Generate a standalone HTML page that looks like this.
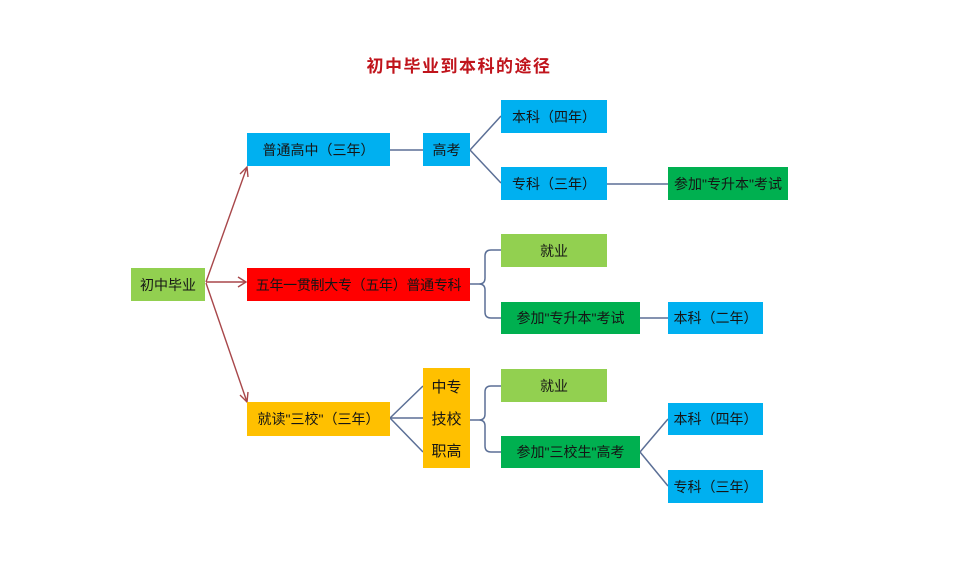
<!DOCTYPE html>
<html><head><meta charset="utf-8">
<style>
html,body{margin:0;padding:0;background:#fff;}
body{width:960px;height:563px;position:relative;overflow:hidden;font-family:"Liberation Sans","Noto Sans CJK SC",sans-serif;}
.b{position:absolute;display:flex;align-items:center;justify-content:center;font-size:14px;color:#151515;white-space:nowrap;box-sizing:border-box;}
.bl{background:#00b0f0;}
.lg{background:#92d050;}
.dg{background:#00b050;}
.rd{background:#ff0000;}
.or{background:#ffc000;}
.title{position:absolute;left:309px;top:52px;width:300px;text-align:center;font-size:17px;font-weight:bold;color:#c0141c;letter-spacing:1.5px;white-space:nowrap;font-family:"Liberation Sans","Noto Sans CJK SC",sans-serif;}
svg{position:absolute;left:0;top:0;}
</style></head><body>
<div class="title">初中毕业到本科的途径</div>
<svg width="960" height="563">
<g stroke="#5b6f96" stroke-width="1.5" fill="none">
<line x1="390" y1="150" x2="423" y2="150"/>
<line x1="470" y1="150" x2="501" y2="116"/>
<line x1="470" y1="150" x2="501" y2="183"/>
<line x1="607" y1="184" x2="668" y2="184"/>
<line x1="640" y1="318" x2="668" y2="318"/>
<line x1="390" y1="418" x2="423" y2="386"/>
<line x1="390" y1="418" x2="423" y2="418"/>
<line x1="390" y1="418" x2="423" y2="452"/>
<line x1="640" y1="452" x2="668" y2="419"/>
<line x1="640" y1="452" x2="668" y2="486"/>
<path d="M470,284 H479 Q485,284 485,278 V256 Q485,250 491,250 H501 M479,284 Q485,284 485,290 V312 Q485,318 491,318 H501"/>
<path d="M470,420 H479 Q485,420 485,414 V392 Q485,386 491,386 H501 M479,420 Q485,420 485,426 V446 Q485,452 491,452 H501"/>
</g>
<g stroke="#a8474a" stroke-width="1.4" fill="none">
<line x1="206" y1="282" x2="247" y2="167"/>
<polyline points="240,174 247,167 248,177"/>
<line x1="206" y1="282" x2="246" y2="282"/>
<polyline points="238,277 246,282 238,287"/>
<line x1="206" y1="283" x2="247" y2="402"/>
<polyline points="240,395 247,402 248,392"/>
</g>
</svg>
<div class="b bl" style="left:501px;top:100px;width:106px;height:33px;">本科（四年）</div>
<div class="b bl" style="left:247px;top:133px;width:143px;height:33px;">普通高中（三年）</div>
<div class="b bl" style="left:423px;top:133px;width:47px;height:33px;">高考</div>
<div class="b bl" style="left:501px;top:167px;width:106px;height:33px;">专科（三年）</div>
<div class="b dg" style="left:668px;top:167px;width:120px;height:33px;">参加"专升本"考试</div>
<div class="b lg" style="left:501px;top:234px;width:106px;height:33px;">就业</div>
<div class="b lg" style="left:131px;top:268px;width:74px;height:33px;">初中毕业</div>
<div class="b rd" style="left:247px;top:268px;width:223px;height:33px;letter-spacing:-0.3px;">五年一贯制大专（五年）普通专科</div>
<div class="b dg" style="left:501px;top:302px;width:139px;height:32px;">参加"专升本"考试</div>
<div class="b bl" style="left:668px;top:302px;width:95px;height:32px;">本科（二年）</div>
<div class="b or" style="left:423px;top:368px;width:47px;height:100px;flex-direction:column;justify-content:space-around;font-size:15px;padding:2px 0;"><span>中专</span><span>技校</span><span>职高</span></div>
<div class="b lg" style="left:501px;top:369px;width:106px;height:33px;">就业</div>
<div class="b or" style="left:247px;top:402px;width:143px;height:34px;">就读"三校"（三年）</div>
<div class="b bl" style="left:668px;top:403px;width:95px;height:32px;">本科（四年）</div>
<div class="b dg" style="left:501px;top:436px;width:139px;height:32px;">参加"三校生"高考</div>
<div class="b bl" style="left:668px;top:470px;width:95px;height:33px;">专科（三年）</div>
</body></html>
